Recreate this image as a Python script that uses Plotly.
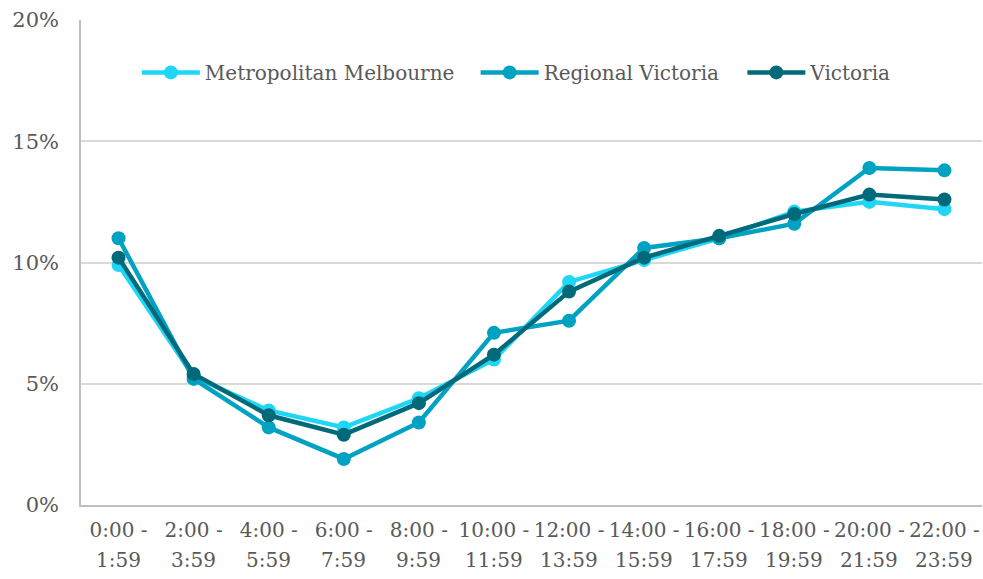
import plotly.graph_objects as go

label_line1 = ["0:00 -", "2:00 -", "4:00 -", "6:00 -", "8:00 -", "10:00 -",
               "12:00 -", "14:00 -", "16:00 -", "18:00 -", "20:00 -", "22:00 -"]
label_line2 = ["1:59", "3:59", "5:59", "7:59", "9:59", "11:59",
               "13:59", "15:59", "17:59", "19:59", "21:59", "23:59"]
categories = [a + " " + b for a, b in zip(label_line1, label_line2)]
metro = [9.9, 5.3, 3.9, 3.2, 4.4, 6.0, 9.2, 10.1, 11.0, 12.1, 12.5, 12.2]
regional = [11.0, 5.2, 3.2, 1.9, 3.4, 7.1, 7.6, 10.6, 11.0, 11.6, 13.9, 13.8]
victoria = [10.2, 5.4, 3.7, 2.9, 4.2, 6.2, 8.8, 10.2, 11.1, 12.0, 12.8, 12.6]
series_names = ["Metropolitan Melbourne", "Regional Victoria", "Victoria"]
colors = ["#1fd6f7", "#00a2c2", "#006a7a"]
y_ticks = [0, 5, 10, 15, 20]
y_tick_labels = ["0%", "5%", "10%", "15%", "20%"]

FONT = "DejaVu Serif"
TXT = "#595959"
legend_ids = ["legend", "legend2", "legend3"]
legend_x = [0.062, 0.438, 0.734]

fig = go.Figure()
for name, vals, col, lid in zip(series_names, [metro, regional, victoria], colors, legend_ids):
    fig.add_trace(go.Scatter(
        x=categories, y=vals, name=name, mode="lines+markers",
        line=dict(color=col, width=4.5),
        marker=dict(color=col, size=14),
        legend=lid,
    ))

# second line of each x tick label, placed at the category positions
for cat, txt in zip(categories, label_line2):
    fig.add_annotation(x=cat, xref="x", y=-0.113, yref="paper", yanchor="middle",
                       text=txt, showarrow=False,
                       font=dict(family=FONT, size=20, color=TXT))

legend_common = dict(orientation="h", y=0.892, xanchor="left", yanchor="middle",
                     font=dict(family=FONT, size=20, color=TXT),
                     bgcolor="rgba(0,0,0,0)", itemwidth=58)

fig.update_layout(
    width=983, height=579,
    margin=dict(l=81, r=1, t=20, b=74, autoexpand=False),
    plot_bgcolor="white", paper_bgcolor="white",
    font=dict(family=FONT, size=20, color=TXT),
    showlegend=True,
    legend=dict(x=legend_x[0], **legend_common),
    legend2=dict(x=legend_x[1], **legend_common),
    legend3=dict(x=legend_x[2], **legend_common),
    xaxis=dict(type="category", showgrid=False, showline=True, linecolor="#bfbfbf",
               linewidth=1.5, ticks="outside", ticklen=6, tickcolor="rgba(0,0,0,0)",
               tickvals=categories, ticktext=label_line1,
               tickfont=dict(family=FONT, size=20, color=TXT),
               range=[-0.5, len(categories) - 0.5], automargin=False),
    yaxis=dict(range=[0, 20], tickvals=y_ticks, ticktext=y_tick_labels,
               showgrid=True, gridcolor="#d9d9d9", gridwidth=1.5,
               showline=True, linecolor="#bfbfbf", linewidth=1.5,
               zeroline=False, ticks="outside", ticklen=16, tickcolor="rgba(0,0,0,0)",
               tickfont=dict(family=FONT, size=21, color=TXT), automargin=False),
)
fig.write_html("out.html", config={"displayModeBar": False},
               post_script="document.body.style.margin='0';document.body.style.overflow='hidden';")
